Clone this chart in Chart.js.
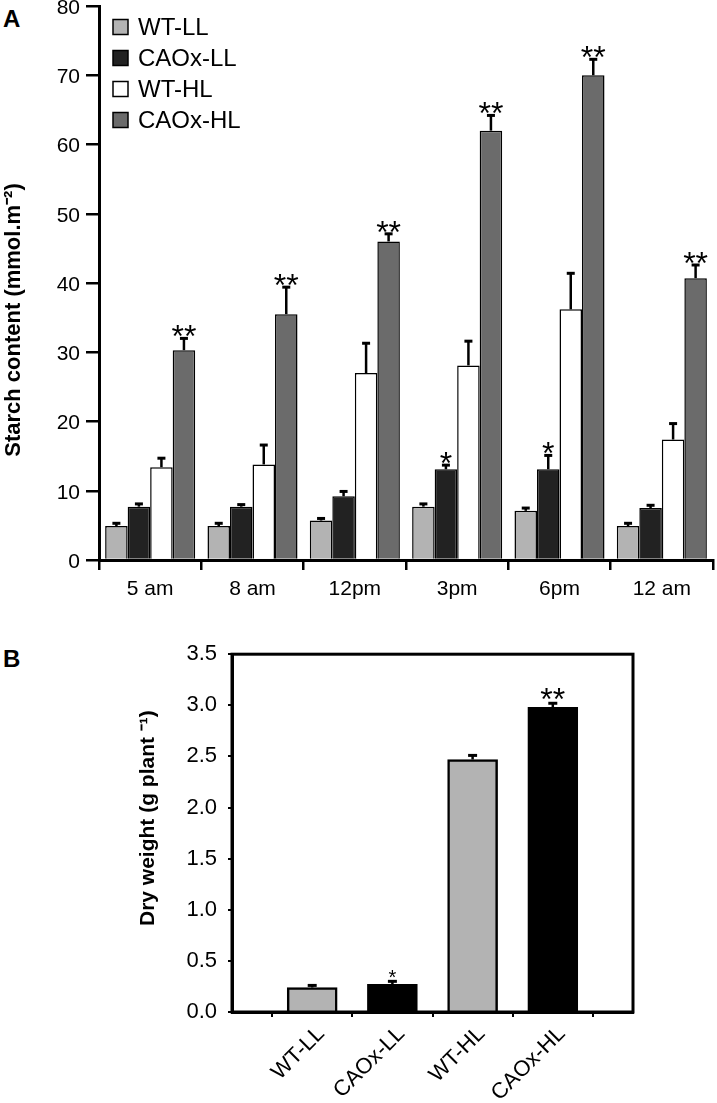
<!DOCTYPE html>
<html>
<head>
<meta charset="utf-8">
<script src="https://cdn.jsdelivr.net/npm/chart.js@4.4.1/dist/chart.umd.min.js"></script>
<style>
  html, body { margin: 0; padding: 0; background: #fff; }
  body { width: 717px; height: 1103px; position: relative; overflow: hidden; font-family: "Liberation Sans", Arial, sans-serif; }
  .panel-letter { position: absolute; font-weight: bold; font-size: 24px; line-height: 1; color: #000; }
  #wrapA { position: absolute; left: 0; top: -13px; width: 717px; height: 633px; }
  #wrapB { position: absolute; left: 0; top: 630px; width: 717px; height: 473px; }
</style>
</head>
<body>
<div class="panel-letter" style="left:3px;top:7px;">A</div>
<div class="panel-letter" style="left:3px;top:647px;">B</div>
<div id="wrapA"><canvas id="chartA"></canvas></div>
<div id="wrapB"><canvas id="chartB"></canvas></div>

<script>
"use strict";

// ── Panel A data: starch content over the day ──
const timePoints = ["5 am", "8 am", "12pm", "3pm", "6pm", "12 am"];
const seriesNames = ["WT-LL", "CAOx-LL", "WT-HL", "CAOx-HL"];

const wtLL      = [4.9, 4.9, 5.7, 7.7, 7.1, 4.9];
const wtLLErr   = [0.4, 0.4, 0.3, 0.4, 0.4, 0.4];
const caoxLL    = [7.7, 7.7, 9.2, 13.1, 13.1, 7.5];
const caoxLLErr = [0.4, 0.3, 0.7, 0.6, 2.0, 0.4];
const wtHL      = [13.4, 13.8, 27.0, 28.1, 36.2, 17.4];
const wtHLErr   = [1.3, 2.8, 4.3, 3.5, 5.2, 2.3];
const caoxHL    = [30.3, 35.5, 46.0, 62.0, 70.0, 40.7];
const caoxHLErr = [1.7, 3.9, 1.1, 2.2, 2.3, 1.9];

const caoxLLSig = ["", "", "", "*", "*", ""];
const caoxHLSig = ["**", "**", "**", "**", "**", "**"];

const starchTicks = [0, 10, 20, 30, 40, 50, 60, 70, 80];

// ── Panel B data: dry weight ──
const genotypes    = ["WT-LL", "CAOx-LL", "WT-HL", "CAOx-HL"];
const dryWeight    = [0.24, 0.27, 2.47, 2.98];
const dryWeightErr = [0.02, 0.03, 0.04, 0.04];
const dryWeightSig = ["", "*", "", "**"];

const FONT = "'Liberation Sans', Arial, sans-serif";

// error bars (upward only) + significance stars
const errorBarPlugin = {
  id: "errorBars",
  afterDatasetsDraw(chart, args, opts) {
    const ctx = chart.ctx;
    const yScale = chart.scales.y;
    chart.data.datasets.forEach((ds, i) => {
      const meta = chart.getDatasetMeta(i);
      meta.data.forEach((bar, j) => {
        const v = ds.data[j];
        if (v == null) return;
        const top = yScale.getPixelForValue(v + ds.errors[j]);
        ctx.save();
        ctx.strokeStyle = "#000";
        ctx.lineWidth = opts.lineWidth;
        ctx.beginPath();
        ctx.moveTo(bar.x, bar.y);
        ctx.lineTo(bar.x, top);
        ctx.stroke();
        ctx.lineWidth = opts.capLineWidth;
        ctx.beginPath();
        ctx.moveTo(bar.x - opts.capWidth / 2, top);
        ctx.lineTo(bar.x + opts.capWidth / 2, top);
        ctx.stroke();
        const s = ds.sig ? ds.sig[j] : "";
        if (s) {
          const f = opts.sigFonts[s];
          ctx.font = f.font;
          ctx.fillStyle = "#000";
          ctx.textAlign = "center";
          ctx.textBaseline = "alphabetic";
          ctx.fillText(s, bar.x, top + f.offset);
        }
        ctx.restore();
      });
    });
  }
};

// vertical legend inside the plot (panel A)
const boxLegendPlugin = {
  id: "boxLegend",
  afterDraw(chart, args, opts) {
    if (!opts.show) return;
    const { ctx, chartArea } = chart;
    ctx.save();
    ctx.font = opts.font;
    ctx.textBaseline = "middle";
    ctx.textAlign = "left";
    chart.data.datasets.forEach((ds, i) => {
      const cy = chartArea.top + opts.top + i * opts.rowGap;
      const x = chartArea.left + opts.left;
      ctx.fillStyle = ds.backgroundColor;
      ctx.fillRect(x, cy - opts.box / 2, opts.box, opts.box);
      ctx.lineWidth = 1.5;
      ctx.strokeStyle = "#000";
      ctx.strokeRect(x, cy - opts.box / 2, opts.box, opts.box);
      ctx.fillStyle = "#000";
      ctx.fillText(ds.label, x + opts.box + 10, cy + 1);
    });
    ctx.restore();
  }
};

// rotated y title, placed a bit off the plot centre like the original
const sideTitlePlugin = {
  id: "sideTitle",
  afterDraw(chart, args, opts) {
    const { ctx, chartArea } = chart;
    const mid = (chartArea.top + chartArea.bottom) / 2;
    ctx.save();
    ctx.translate(opts.x, mid + opts.shift);
    ctx.rotate(-Math.PI / 2);
    ctx.font = opts.font;
    ctx.fillStyle = "#000";
    ctx.textAlign = "center";
    ctx.textBaseline = "middle";
    ctx.fillText(opts.text, 0, 0);
    ctx.restore();
  }
};

// closed frame around plot (panel B)
const frameBoxPlugin = {
  id: "frameBox",
  afterDraw(chart, args, opts) {
    if (!opts.show) return;
    const { ctx, chartArea } = chart;
    ctx.save();
    ctx.strokeStyle = "#000";
    ctx.lineWidth = 3;
    ctx.strokeRect(chartArea.left, chartArea.top, chartArea.right - chartArea.left, chartArea.bottom - chartArea.top);
    ctx.restore();
  }
};

// ════════ Panel A ════════
const seriesColors = ["#b3b3b3", "#222222", "#ffffff", "#6b6b6b"];
const seriesValues = [wtLL, caoxLL, wtHL, caoxHL];
const seriesErrors = [wtLLErr, caoxLLErr, wtHLErr, caoxHLErr];
const seriesSig    = [null, caoxLLSig, null, caoxHLSig];

new Chart(document.getElementById("chartA"), {
  type: "bar",
  data: {
    labels: timePoints,
    datasets: seriesNames.map((name, i) => ({
      label: name,
      data: seriesValues[i],
      errors: seriesErrors[i],
      sig: seriesSig[i],
      backgroundColor: seriesColors[i],
      borderColor: "#000",
      borderWidth: 1.5,
      categoryPercentage: 0.88,
      barPercentage: 1.0
    }))
  },
  options: {
    responsive: true,
    maintainAspectRatio: false,
    animation: false,
    layout: { padding: { top: 19, right: 4, left: 0, bottom: 0 } },
    plugins: {
      legend: { display: false },
      tooltip: { enabled: false },
      errorBars: {
        lineWidth: 2.5, capLineWidth: 3, capWidth: 8,
        sigFonts: {
          "*":  { font: "32px " + FONT, offset: 9 },
          "**": { font: "32px " + FONT, offset: 9 }
        }
      },
      boxLegend: { show: true, font: "24px " + FONT, left: 14, top: 21, rowGap: 31, box: 15 },
      sideTitle: { text: "Starch content (mmol.m\u207B\u00B2)", font: "bold 22px " + FONT, x: 14, shift: 37 },
      frameBox: { show: false }
    },
    scales: {
      x: {
        offset: true,
        afterFit(scale) { scale.height = 60; },
        border: { display: true, color: "#000", width: 3 },
        grid: { offset: true, drawOnChartArea: false, color: "#000", lineWidth: 2.5, tickLength: 10 },
        ticks: { color: "#000", font: { family: FONT, size: 21 }, padding: 7, maxRotation: 0 }
      },
      y: {
        min: 0,
        max: 80,
        afterFit(scale) { scale.width = 99; },
        afterBuildTicks(scale) { scale.ticks = starchTicks.map(v => ({ value: v })); },
        border: { display: true, color: "#000", width: 3 },
        grid: { drawOnChartArea: false, color: "#000", lineWidth: 2.5, tickLength: 13 },
        ticks: { color: "#000", font: { family: FONT, size: 21 }, padding: 6, labelOffset: 2 }
      }
    }
  },
  plugins: [errorBarPlugin, boxLegendPlugin, sideTitlePlugin, frameBoxPlugin]
});

// ════════ Panel B ════════
const genotypeColors = genotypes.map(g => g.startsWith("WT") ? "#b3b3b3" : "#000000");

new Chart(document.getElementById("chartB"), {
  type: "bar",
  data: {
    labels: ["", ...genotypes, ""],
    datasets: [{
      label: "Dry weight",
      data: [null, ...dryWeight, null],
      errors: [0, ...dryWeightErr, 0],
      sig: ["", ...dryWeightSig, ""],
      backgroundColor: ["#fff", ...genotypeColors, "#fff"],
      borderColor: "#000",
      borderWidth: 2.5,
      barThickness: 50
    }]
  },
  options: {
    responsive: true,
    maintainAspectRatio: false,
    animation: false,
    layout: { padding: { top: 23, right: 84, left: 0, bottom: 0 } },
    plugins: {
      legend: { display: false },
      tooltip: { enabled: false },
      errorBars: {
        lineWidth: 2.5, capLineWidth: 3, capWidth: 9,
        sigFonts: {
          "*":  { font: "20px " + FONT, offset: 3 },
          "**": { font: "32px " + FONT, offset: 7 }
        }
      },
      boxLegend: { show: false },
      sideTitle: { text: "Dry weight (g plant \u207B\u00B9)", font: "bold 21px " + FONT, x: 148, shift: -15 },
      frameBox: { show: true }
    },
    scales: {
      x: {
        offset: false,
        afterFit(scale) { scale.height = 91; },
        border: { display: true, color: "#000", width: 3 },
        grid: { drawOnChartArea: false, color: "#000", lineWidth: 2, tickLength: 5 },
        ticks: { color: "#000", font: { family: FONT, size: 22 }, padding: 4, labelOffset: 9, minRotation: 45, maxRotation: 45, autoSkip: false }
      },
      y: {
        min: 0,
        max: 3.5,
        afterFit(scale) { scale.width = 232; },
        border: { display: true, color: "#000", width: 3 },
        grid: { drawOnChartArea: false, color: "#000", lineWidth: 2, tickLength: 4 },
        ticks: { stepSize: 0.5, color: "#000", font: { family: FONT, size: 22 }, padding: 11, callback: v => v.toFixed(1) }
      }
    }
  },
  plugins: [errorBarPlugin, boxLegendPlugin, sideTitlePlugin, frameBoxPlugin]
});
</script>
</body>
</html>
